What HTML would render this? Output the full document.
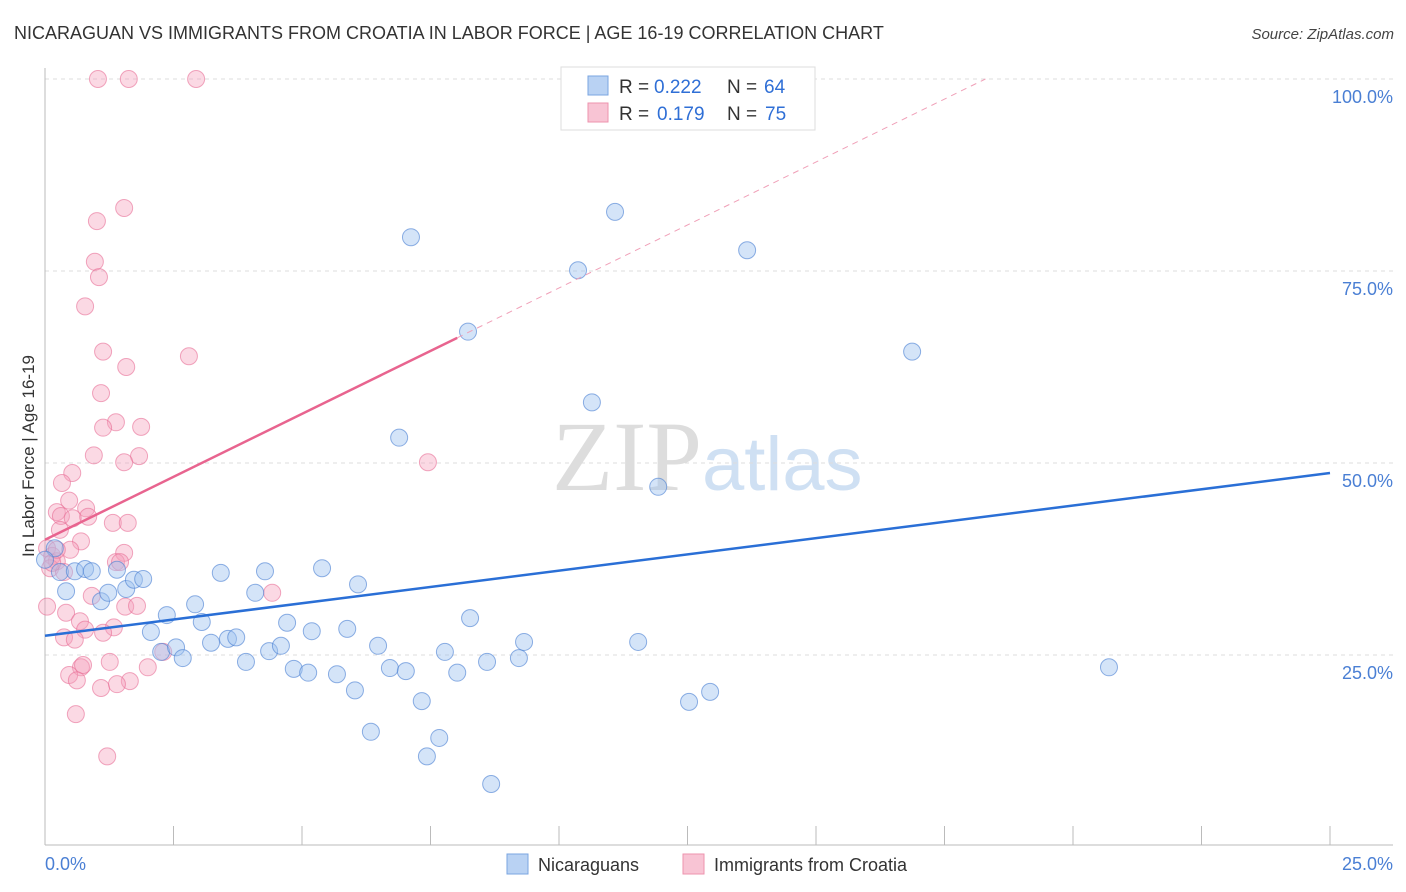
<!DOCTYPE html>
<html><head><meta charset="utf-8"><style>
body{margin:0;background:#fff;font-family:"Liberation Sans",sans-serif}
svg{display:block}
</style></head><body>
<svg id="chart" width="1406" height="892" xmlns="http://www.w3.org/2000/svg" font-family="Liberation Sans, sans-serif">
<text x="14" y="39" font-size="18" fill="#333">NICARAGUAN VS IMMIGRANTS FROM CROATIA IN LABOR FORCE | AGE 16-19 CORRELATION CHART</text>
<text x="1394" y="39" font-size="15" fill="#444" text-anchor="end" font-style="italic">Source: ZipAtlas.com</text>
<text x="552" y="490" font-size="100" fill="#ddd" font-family="Liberation Serif, serif">ZIP<tspan fill="#cfe0f3" font-family="Liberation Sans, sans-serif" font-size="76">atlas</tspan></text>
<g id="grid"></g>
<line x1="45" y1="68" x2="45" y2="845" stroke="#bbb"/>
<line x1="45" y1="845" x2="1393" y2="845" stroke="#bbb"/>
<g id="ticks"></g>
<text transform="translate(34,456) rotate(-90)" font-size="17" fill="#333" text-anchor="middle">In Labor Force | Age 16-19</text>
<text x="45" y="870" font-size="18" fill="#4a7fd4">0.0%</text>
<text x="1393" y="870" font-size="18" fill="#4a7fd4" text-anchor="end">25.0%</text>
<g id="pts"></g>
<g id="lines"></g>
<g font-size="19">
<rect x="561" y="67" width="254" height="63" fill="#fff" stroke="#ddd"/>
<rect x="588" y="76" width="20" height="19" fill="#b9d2f3" stroke="#7aa5e0"/>
<rect x="588" y="103" width="20" height="19" fill="#f8c4d4" stroke="#ee93ae"/>
<text x="619" y="93" fill="#333">R =</text><text x="654" y="93" fill="#2f6fd6">0.222</text>
<text x="727" y="93" fill="#333">N =</text><text x="764" y="93" fill="#2f6fd6">64</text>
<text x="619" y="120" fill="#333">R =</text><text x="657" y="120" fill="#2f6fd6">0.179</text>
<text x="727" y="120" fill="#333">N =</text><text x="765" y="120" fill="#2f6fd6">75</text>
</g>
<g>
<rect x="507" y="854" width="21" height="20" fill="#b9d2f3" stroke="#7aa5e0"/>
<text x="538" y="871" font-size="18" fill="#333">Nicaraguans</text>
<rect x="683" y="854" width="21" height="20" fill="#f8c4d4" stroke="#ee93ae"/>
<text x="714" y="871" font-size="18" fill="#333">Immigrants from Croatia</text>
</g>
</svg>
<script>
const yTicks=[25,50,75,100];
const yTickLabels=["25.0%","50.0%","75.0%","100.0%"];
const blueX=[0.19,0.29,0.41,0.58,0.78,0.91,1.09,1.23,1.40,1.58,1.73,1.91,2.06,2.26,2.37,2.55,2.68,2.92,3.05,3.23,3.42,3.56,3.72,3.91,4.09,4.28,4.36,4.59,4.71,4.84,5.12,5.19,5.39,5.68,5.88,6.03,6.09,6.34,6.48,6.71,6.89,7.02,7.12,7.33,7.43,7.67,7.78,8.02,8.27,8.23,8.60,9.22,9.32,10.37,10.64,11.09,11.54,11.93,12.53,12.94,13.66,16.87,20.70,0.0,8.68];
const blueY=[38.9,35.8,33.3,35.9,36.2,35.9,32.0,33.1,36.1,33.6,34.8,34.9,28.0,25.4,30.2,26.0,24.6,31.6,29.3,26.6,35.7,27.1,27.3,24.1,33.1,35.9,25.5,26.2,29.2,23.2,22.7,28.1,36.3,22.5,28.4,20.4,34.2,15.0,26.2,23.3,53.3,22.9,79.4,19.0,11.8,14.2,25.4,22.7,29.8,67.1,24.1,24.6,26.7,75.1,57.9,82.7,26.7,46.9,18.9,20.2,77.7,64.5,23.4,37.4,8.2];
const pinkX=[1.03,1.63,2.94,1.54,1.01,0.97,1.05,0.78,1.13,2.80,1.58,1.09,1.38,1.13,1.87,0.95,1.83,1.54,7.45,0.53,0.33,0.47,0.80,0.23,0.31,0.54,1.32,1.61,0.70,0.49,1.54,1.38,0.04,0.14,0.23,0.10,0.37,0.04,0.41,0.91,1.56,1.79,0.68,1.34,1.13,0.78,0.37,0.58,4.42,2.30,0.70,0.74,1.26,0.47,0.62,2.00,1.09,1.65,1.40,0.60,1.21,0.14,0.23,0.84,1.46,0.29];
const pinkY=[100,100,100,83.2,81.5,76.2,74.2,70.4,64.5,63.9,62.5,59.1,55.3,54.6,54.7,51.0,50.9,50.1,50.1,48.7,47.4,45.1,44.1,43.6,43.1,42.8,42.2,42.2,39.8,38.7,38.3,37.1,38.9,37.9,37.2,36.3,35.8,31.3,30.5,32.7,31.3,31.4,29.4,28.6,27.9,28.3,27.3,27.0,33.1,25.4,23.4,23.7,24.1,22.4,21.7,23.4,20.7,21.6,21.2,17.3,11.8,37.0,38.7,43.0,37.1,41.3];
const blueFit=[27.5,48.7];
const pinkFit=[40.0,66.3];
const pinkFitEnd=8.02;
const NS="http://www.w3.org/2000/svg";
const xs=v=>45+v/25*1285, ys=v=>847-v*7.68;
function mk(tag,attrs,parent){const e=document.createElementNS(NS,tag);for(const k in attrs)e.setAttribute(k,attrs[k]);document.getElementById(parent).appendChild(e);return e;}
yTicks.forEach((t,i)=>{
 const g=mk('line',{x1:45,x2:1393,y1:ys(t),y2:ys(t),stroke:'#ddd','stroke-dasharray':'4,4'},'grid');
 
 
 const l=mk('text',{x:1393,y:ys(t)+24,'font-size':18,fill:'#4a7fd4','text-anchor':'end'},'grid');
 l.textContent=yTickLabels[i];
 
 
});
for(let i=0;i<=10;i++){
 const t=mk('line',{x1:xs(i*2.5),x2:xs(i*2.5),y1:826,y2:845,stroke:'#bbb'},'ticks');
 
 
}
pinkX.forEach((x,i)=>{
 const c=mk('circle',{cx:xs(x),cy:ys(pinkY[i]),r:8.5,fill:'rgba(244,160,188,0.4)',stroke:'rgba(232,110,150,0.6)','stroke-width':1},'pts');
 
 
});
blueX.forEach((x,i)=>{
 const c=mk('circle',{cx:xs(x),cy:ys(blueY[i]),r:8.5,fill:'rgba(160,195,240,0.45)',stroke:'rgba(70,125,210,0.6)','stroke-width':1},'pts');
 
 
});
const slope=(pinkFit[1]-pinkFit[0])/pinkFitEnd;
const xEnd=(100-pinkFit[0])/slope;
const d=mk('line',{x1:xs(pinkFitEnd),y1:ys(pinkFit[1]),x2:xs(xEnd),y2:ys(100),stroke:'#f0a0b8','stroke-dasharray':'6,5','stroke-width':1},'lines');


const p=mk('line',{x1:xs(0),y1:ys(pinkFit[0]),x2:xs(pinkFitEnd),y2:ys(pinkFit[1]),stroke:'#e8648f','stroke-width':2.5},'lines');


const b=mk('line',{x1:xs(0),y1:ys(blueFit[0]),x2:xs(25),y2:ys(blueFit[1]),stroke:'#2a6fd6','stroke-width':2.5},'lines');


</script>
</body></html>
